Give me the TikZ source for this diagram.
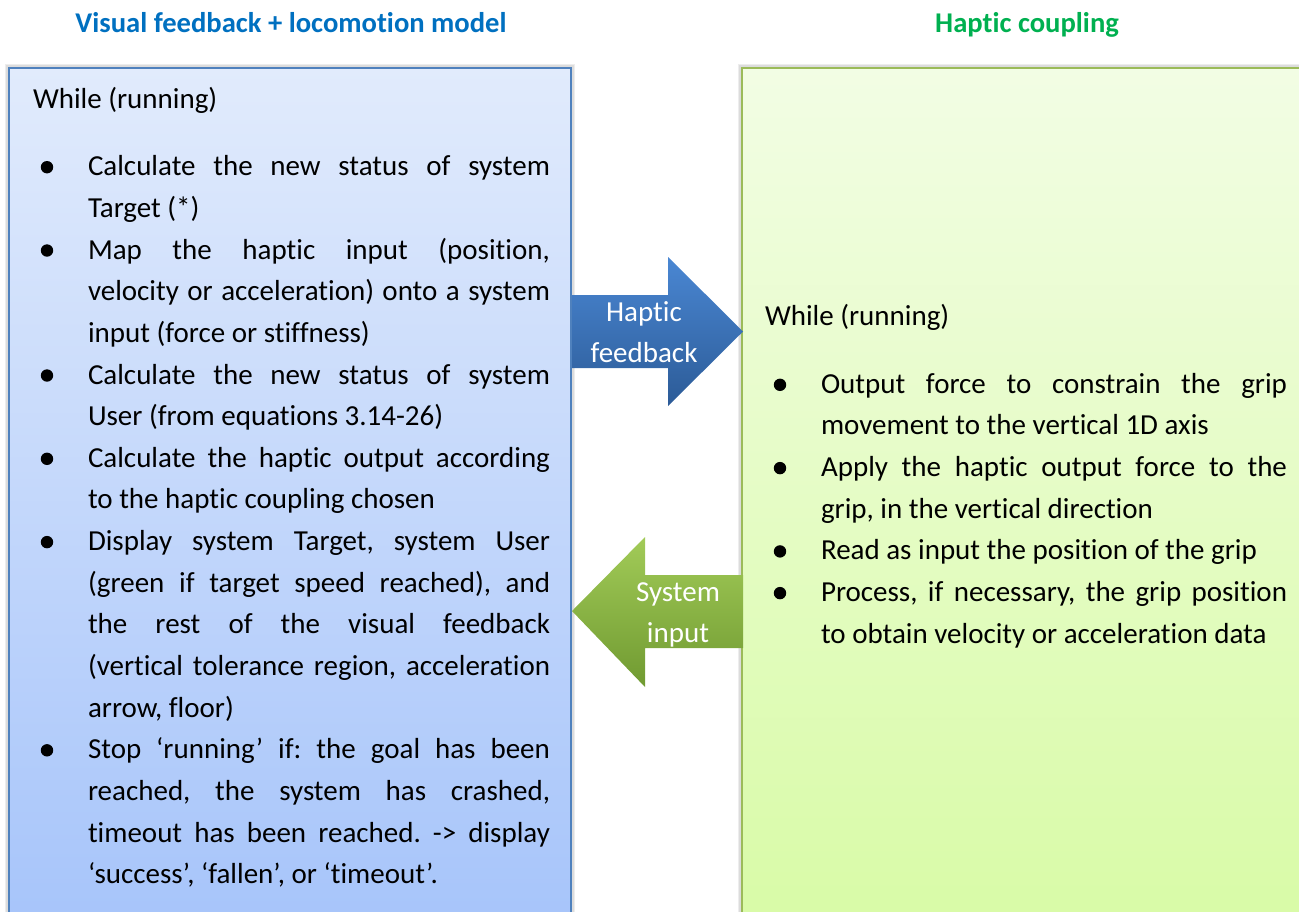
\documentclass[tikz,border=0pt]{standalone}
\usepackage{fontspec}
\setmainfont{Carlito}[Ligatures=TeX, RawFeature={-liga;-clig;-calt;-dlig}]
\usetikzlibrary{backgrounds}
\frenchspacing

\definecolor{titleblue}{HTML}{0070C0}
\definecolor{titlegreen}{HTML}{00B050}
\definecolor{lboxtop}{HTML}{E1EBFC}
\definecolor{lboxbot}{HTML}{A6C4FA}
\definecolor{lboxline}{HTML}{4F81BD}
\definecolor{rboxtop}{HTML}{F2FDE4}
\definecolor{rboxbot}{HTML}{D8FBA6}
\definecolor{rboxline}{HTML}{9BBB59}
\definecolor{hfTop}{HTML}{4A87D3}
\definecolor{hfBot}{HTML}{2C5B97}
\definecolor{siTop}{HTML}{A2CB58}
\definecolor{siBot}{HTML}{709A31}

\tikzset{
  body/.style={font=\fontsize{14.5}{20.825}\selectfont, inner sep=0pt, outer sep=0pt},
  heading/.style={font=\fontsize{14.3}{17}\selectfont\bfseries, inner sep=0pt, anchor=base},
  paneL/.style={draw=lboxline, line width=0.75pt, top color=lboxtop, bottom color=lboxbot,
    minimum width=281pt, minimum height=433pt, inner sep=0pt},
  paneR/.style={draw=rboxline, line width=1pt, top color=rboxtop, bottom color=rboxbot,
    minimum width=289pt, minimum height=433pt, inner sep=0pt},
  halo/.style={draw=black, opacity=0.07, line width=#1},
  lead/.style={body, anchor=base west},
  itemL/.style={body, anchor=base west, text width=231pt, align=justify,
    execute at begin node={\frenchspacing\hyphenpenalty=10000 \exhyphenpenalty=10000 \tolerance=10000 \hbadness=10000}},
  itemR/.style={itemL, text width=233pt},
  dot/.style={circle, fill=black, inner sep=0pt, minimum size=6.2pt},
  arrowtext/.style={body, text=white, anchor=base, text width=70pt, align=center},
}

\begin{document}
\begin{tikzpicture}[x=0.5pt,y=-0.5pt]
\useasboundingbox (0,0) rectangle (1299,911);
\clip (0,0) rectangle (1299,911);

% column headings
\node[heading, text=titleblue] (ltitle) at (291,32) {Visual feedback + locomotion model};
\node[heading, text=titlegreen] (rtitle) at (1027,32) {Haptic coupling};

% the two panes
\node[paneL] (lbox) at (290,501) {};
\node[paneR] (rbox) at (1031,501) {};
\begin{scope}[on background layer]
  \draw[halo=3pt] (lbox.north west) rectangle (lbox.south east);
  \draw[halo=1.8pt] (lbox.north west) rectangle (lbox.south east);
  \draw[halo=3pt] (rbox.north west) rectangle (rbox.south east);
  \draw[halo=1.8pt] (rbox.north west) rectangle (rbox.south east);
\end{scope}

% left pane: simulation loop
\node[lead] (lwhile) at (33,108) {While (running)};

\node[dot] (lb1) at (47,167.2) {};
\node[itemL] (li1) at (88,175.7) {Calculate the new status of system\linebreak Target (*)};
\node[dot] (lb2) at (47,250.5) {};
\node[itemL] (li2) at (88,259.0) {Map the haptic input (position,\linebreak velocity or acceleration) onto a system\linebreak input (force or stiffness)};
\node[dot] (lb3) at (47,375.5) {};
\node[itemL] (li3) at (88,384.0) {Calculate the new status of system\linebreak User (from equations 3.14-26)};
\node[dot] (lb4) at (47,458.8) {};
\node[itemL] (li4) at (88,467.3) {Calculate the haptic output according\linebreak to the haptic coupling chosen};
\node[dot] (lb5) at (47,542.1) {};
\node[itemL] (li5) at (88,550.6) {Display system Target, system User\linebreak (green if target speed reached), and\linebreak the rest of the visual feedback\linebreak (vertical tolerance region, acceleration\linebreak arrow, floor)};
\node[dot] (lb6) at (47,750.3) {};
\node[itemL] (li6) at (88,758.8) {Stop ‘running’ if: the goal has been\linebreak reached, the system has crashed,\linebreak timeout has been reached. -> display\linebreak ‘success’, ‘fallen’, or ‘timeout’.};

% right pane: haptic loop
\node[lead] (rwhile) at (765,325) {While (running)};

\node[dot] (rb1) at (780,384.8) {};
\node[itemR] (ri1) at (821,393.3) {Output force to constrain the grip\linebreak movement to the vertical 1D axis};
\node[dot] (rb2) at (780,468.1) {};
\node[itemR] (ri2) at (821,476.6) {Apply the haptic output force to the\linebreak grip, in the vertical direction};
\node[dot] (rb3) at (780,551.4) {};
\node[itemR] (ri3) at (821,559.9) {Read as input the position of the grip};
\node[dot] (rb4) at (780,593.1) {};
\node[itemR] (ri4) at (821,601.6) {Process, if necessary, the grip position\linebreak to obtain velocity or acceleration data};

% block arrow: haptic feedback, left pane -> right pane
\shade[top color=hfTop, bottom color=hfBot]
  (572,295) -- (668,295) -- (668,257) -- (743,331.5) -- (668,406) -- (668,368) -- (572,368) -- cycle;
\node[arrowtext] (hflabel) at (644,321) {Haptic\\feedback};

% block arrow: system input, right pane -> left pane
\shade[top color=siTop, bottom color=siBot]
  (572,611) -- (645,537) -- (645,575) -- (743,575) -- (743,648) -- (645,648) -- (645,687) -- cycle;
\node[arrowtext] (silabel) at (678,601) {System\\input};
\end{tikzpicture}
\end{document}
